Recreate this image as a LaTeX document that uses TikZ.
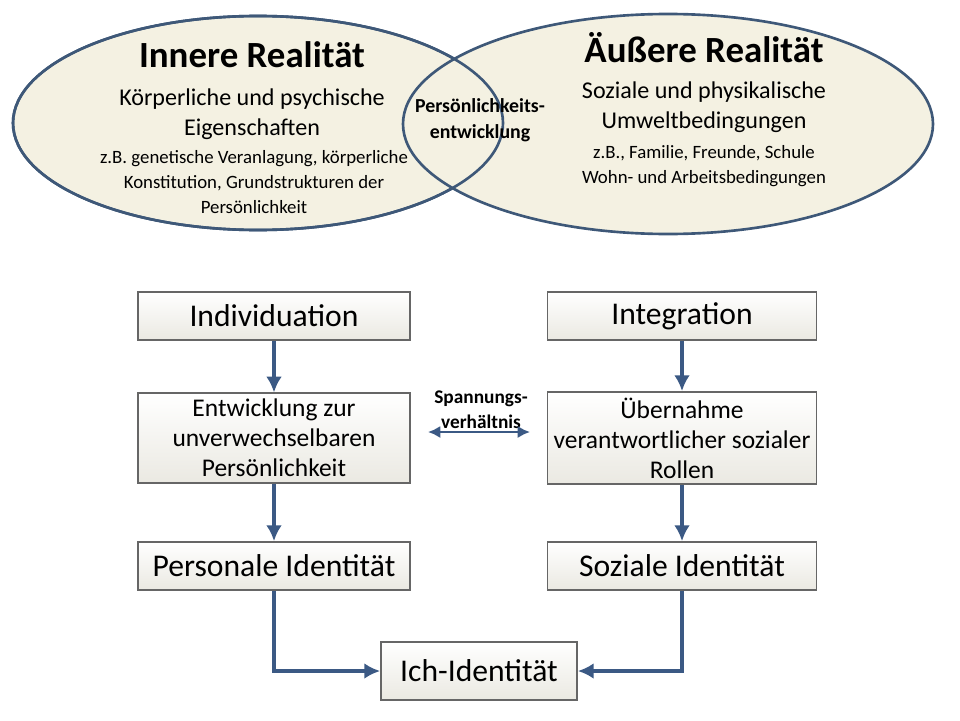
\documentclass[tikz,border=0pt]{standalone}
\usepackage{fontspec}
\setmainfont{Carlito}
\usetikzlibrary{positioning,shapes.geometric,arrows.meta}
\definecolor{rim}{HTML}{3E5878}
\definecolor{cream}{HTML}{F4F1E2}
\definecolor{arrowblue}{HTML}{3B5984}
\begin{document}
\begin{tikzpicture}[x=0.02cm,y=-0.02cm,
    realm/.style={ellipse, draw=rim, line width=1.5pt, fill=cream},
    stage/.style={rectangle, draw=gray!80!black, line width=1pt, top color=white, bottom color=cream!80!gray!60, align=center},
    arrow/.style={-{Latex[length=9pt,width=9pt]}, draw=arrowblue, line width=2pt}
  ]
  \useasboundingbox (0,0) rectangle (960,720);

  \node (inner) [realm, minimum width=490*0.02cm, minimum height=214*0.02cm] at (258,123) {};
  \node (outer) [realm, minimum width=530*0.02cm, minimum height=220*0.02cm] at (668,124) {};
  \node (innerrim) [realm, fill=none, minimum width=490*0.02cm, minimum height=214*0.02cm] at (258,123) {};

  \node (innertitle) [font=\fontsize{21}{24}\selectfont\bfseries] at (252,55) {Innere Realität};
  \node (innertext) [align=center, font=\fontsize{13.7}{17}\selectfont] at (252,114) {Körperliche und psychische\\ Eigenschaften};
  \node (innerex) [align=center, font=\fontsize{10.7}{14}\selectfont] at (254,182) {z.B. genetische Veranlagung, körperliche\\ Konstitution, Grundstrukturen der\\ Persönlichkeit};
  \node (outertitle) [font=\fontsize{21}{24}\selectfont\bfseries] at (704,48) {Äußere Realität};
  \node (outertext) [align=center, font=\fontsize{13.7}{17}\selectfont] at (704,107) {Soziale und physikalische\\ Umweltbedingungen};
  \node (outerex) [align=center, font=\fontsize{10.7}{14}\selectfont] at (704,166) {z.B., Familie, Freunde, Schule\\ Wohn- und Arbeitsbedingungen};
  \node (overlap) [align=center, font=\fontsize{11.3}{15}\selectfont\bfseries] at (480,120) {Persönlichkeits-\\ entwicklung};

  \node (indiv) [stage, font=\fontsize{18}{20}\selectfont, minimum width=272*0.02cm, minimum height=48*0.02cm] at (274,316) {Individuation};
  \node (integ) [stage, font=\fontsize{18}{20}\selectfont, minimum width=269*0.02cm, minimum height=48*0.02cm] at (682,316) {Integration};
  \node (develop) [stage, font=\fontsize{14.5}{17}\selectfont, minimum width=272*0.02cm, minimum height=83*0.02cm] at (274,438) {Entwicklung zur\\ unverwechselbaren\\ Persönlichkeit};
  \node (roles) [stage, font=\fontsize{14.5}{17}\selectfont, minimum width=269*0.02cm, minimum height=83*0.02cm] at (682,438) {Übernahme\\ verantwortlicher sozialer\\ Rollen};
  \node (personal) [stage, font=\fontsize{18}{20}\selectfont, minimum width=272*0.02cm, minimum height=48*0.02cm] at (274,566) {Personale Identität};
  \node (social) [stage, font=\fontsize{18}{20}\selectfont, minimum width=269*0.02cm, minimum height=48*0.02cm] at (682,566) {Soziale Identität};
  \node (ego) [stage, font=\fontsize{18}{20}\selectfont, minimum width=196*0.02cm, minimum height=58*0.02cm] at (479,671) {Ich-Identität};

  \node (tension) [align=center, font=\fontsize{11}{14}\selectfont\bfseries] at (481,410) {Spannungs-\\ verhältnis};
  \coordinate (tl) at (428,432);
  \coordinate (tr) at (530,432);

  \draw[arrow] (indiv) -- (develop);
  \draw[arrow] (develop) -- (personal);
  \draw[arrow] (integ) -- (roles);
  \draw[arrow] (roles) -- (social);
  \draw[arrow, {Latex[length=7pt,width=7pt]}-{Latex[length=7pt,width=7pt]}, line width=1.5pt] (tl) -- (tr);
  \draw[arrow] (personal.south) |- (ego.west);
  \draw[arrow] (social.south) |- (ego.east);

\end{tikzpicture}
\end{document}
